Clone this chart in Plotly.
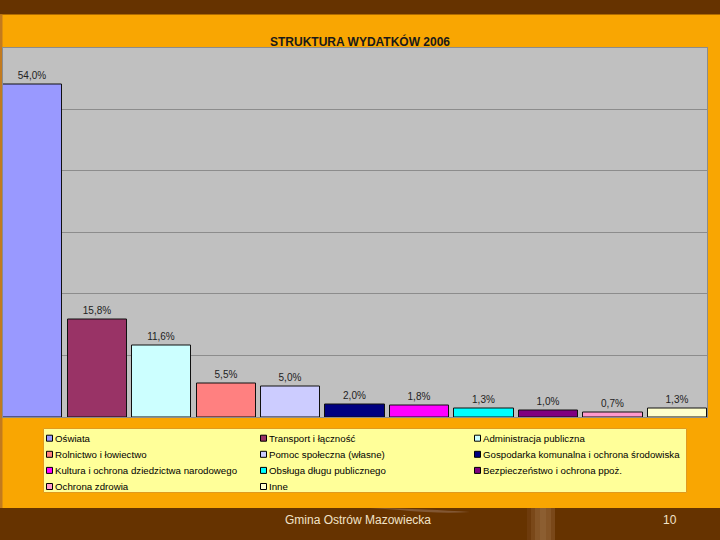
import plotly.graph_objects as go

W, H = 720, 540

categories = [
    "Oświata", "Transport i łączność", "Administracja publiczna",
    "Rolnictwo i łowiectwo", "Pomoc społeczna (własne)",
    "Gospodarka komunalna i ochrona środowiska",
    "Kultura i ochrona dziedzictwa narodowego", "Obsługa długu publicznego",
    "Bezpieczeństwo i ochrona ppoż.", "Ochrona zdrowia", "Inne",
]
values = [54.0, 15.8, 11.6, 5.5, 5.0, 2.0, 1.8, 1.3, 1.0, 0.7, 1.3]
colors = [
    "#9999FF", "#993366", "#CCFFFF", "#FF8080", "#CCCCFF", "#000080",
    "#FF00FF", "#00FFFF", "#800080", "#FF99CC", "#FFFFCC",
]
title_text = "STRUKTURA WYDATKÓW 2006"
footer_text = "Gmina Ostrów Mazowiecka"
page_number = "10"

ORANGE = "#F9A602"
BROWN = "#663300"

# pixel helpers (margins are zero, so paper == whole canvas)
def px(x):
    return x / W

def py(y):
    return 1 - y / H

bar_w = 0.915
fig = go.Figure()
fig.add_trace(go.Bar(
    x=list(range(len(categories))),
    y=values,
    width=bar_w,
    marker=dict(color=colors, line=dict(color="#101010", width=1)),
    text=values,
    texttemplate="%{y:.1f}%",
    textposition="outside",
    cliponaxis=False,
    textfont=dict(family="Liberation Sans, Arial, sans-serif", size=10, color="#222222"),
    hoverinfo="skip",
    showlegend=False,
))

shapes = []
annotations = []

# top and bottom brown bands
shapes.append(dict(type="rect", xref="paper", yref="paper", x0=0, x1=1, y0=py(14.5), y1=1,
                   fillcolor=BROWN, line_width=0, layer="below"))
shapes.append(dict(type="rect", xref="paper", yref="paper", x0=0, x1=1, y0=0, y1=py(508),
                   fillcolor=BROWN, line_width=0, layer="below"))
# left edge thin line
shapes.append(dict(type="rect", xref="paper", yref="paper", x0=0, x1=px(2.5), y0=py(508), y1=py(14.5),
                   fillcolor="#C27A1E", line_width=0, layer="below"))
# decorative stripe in bottom band
stripe = [("#6E3B0C", 527, 531), ("#7A4819", 531, 535), ("#855527", 535, 540),
          ("#8C5E31", 540, 546), ("#855527", 546, 551), ("#7A4819", 551, 555)]
for c, a, b in stripe:
    shapes.append(dict(type="rect", xref="paper", yref="paper", x0=px(a), x1=px(b), y0=0, y1=py(508),
                       fillcolor=c, line_width=0, layer="below"))
# swoosh
shapes.append(dict(type="path", xref="paper", yref="paper", layer="below",
                   path=f"M {px(370)},{py(508)} Q {px(430)},{py(509)} {px(470)},{py(512)} "
                        f"Q {px(440)},{py(514)} {px(400)},{py(510)} Z",
                   fillcolor="#8A6040", line_width=0, opacity=0.8))

# legend box
shapes.append(dict(type="rect", xref="paper", yref="paper", x0=px(43.5), x1=px(686.5),
                   y0=py(492.5), y1=py(428.5), fillcolor="#FFFF99",
                   line=dict(color="#E09A20", width=1), layer="below"))

col_x = [46.5, 260.5, 474.5]
row_y0, row_dy = 438.2, 16.1
msz = 6
for i, (name, col) in enumerate(zip(categories, colors)):
    c, r = i % 3, i // 3
    x0 = col_x[c]
    yc = row_y0 + r * row_dy
    shapes.append(dict(type="rect", xref="paper", yref="paper",
                       x0=px(x0), x1=px(x0 + msz), y0=py(yc + msz / 2), y1=py(yc - msz / 2),
                       fillcolor=col, line=dict(color="#000000", width=1)))
    annotations.append(dict(xref="paper", yref="paper", x=px(x0 + msz + 0.5), y=py(yc),
                            text=name, showarrow=False, xanchor="left", yanchor="middle",
                            font=dict(family="Liberation Sans, Arial, sans-serif", size=9.7, color="#000000")))

# title
annotations.append(dict(xref="paper", yref="paper", x=px(360), y=py(41), text=f"<b>{title_text}</b>",
                        showarrow=False, xanchor="center", yanchor="middle",
                        font=dict(family="Liberation Sans Narrow, Arial Narrow, Liberation Sans, sans-serif",
                                  size=12, color="#1A1A1A")))
# footer
annotations.append(dict(xref="paper", yref="paper", x=px(358), y=py(520), text=footer_text,
                        showarrow=False, xanchor="center", yanchor="middle",
                        font=dict(family="Liberation Sans Narrow, Liberation Sans, sans-serif", size=12,
                                  color="#F2E3C8")))
annotations.append(dict(xref="paper", yref="paper", x=px(670), y=py(520), text=page_number,
                        showarrow=False, xanchor="center", yanchor="middle",
                        font=dict(family="Liberation Sans Narrow, Liberation Sans, sans-serif", size=12,
                                  color="#F2E3C8")))

n = len(categories)
fig.update_layout(
    width=W, height=H,
    margin=dict(l=0, r=0, t=0, b=0, pad=0),
    paper_bgcolor=ORANGE,
    plot_bgcolor="#C0C0C0",
    separators=", ",
    shapes=shapes,
    annotations=annotations,
    bargap=0,
    xaxis=dict(domain=[px(3), px(707)], range=[-bar_w / 2, n - 1 + bar_w / 2],
               showticklabels=False, ticks="", showgrid=False, zeroline=False,
               showline=True, mirror=True, linecolor="#8C8C8C", linewidth=1, fixedrange=True),
    yaxis=dict(domain=[1 - 417 / H, 1 - 47.5 / H], range=[0, 60], dtick=10,
               showticklabels=False, ticks="", showgrid=True, gridcolor="#8C8C8C", gridwidth=1,
               zeroline=False, showline=True, mirror=True, linecolor="#8C8C8C", linewidth=1,
               fixedrange=True),
)

fig.write_html(
    "out.html",
    config={"displayModeBar": False},
    post_script="document.body.style.margin='0';document.body.style.overflow='hidden';",
)
